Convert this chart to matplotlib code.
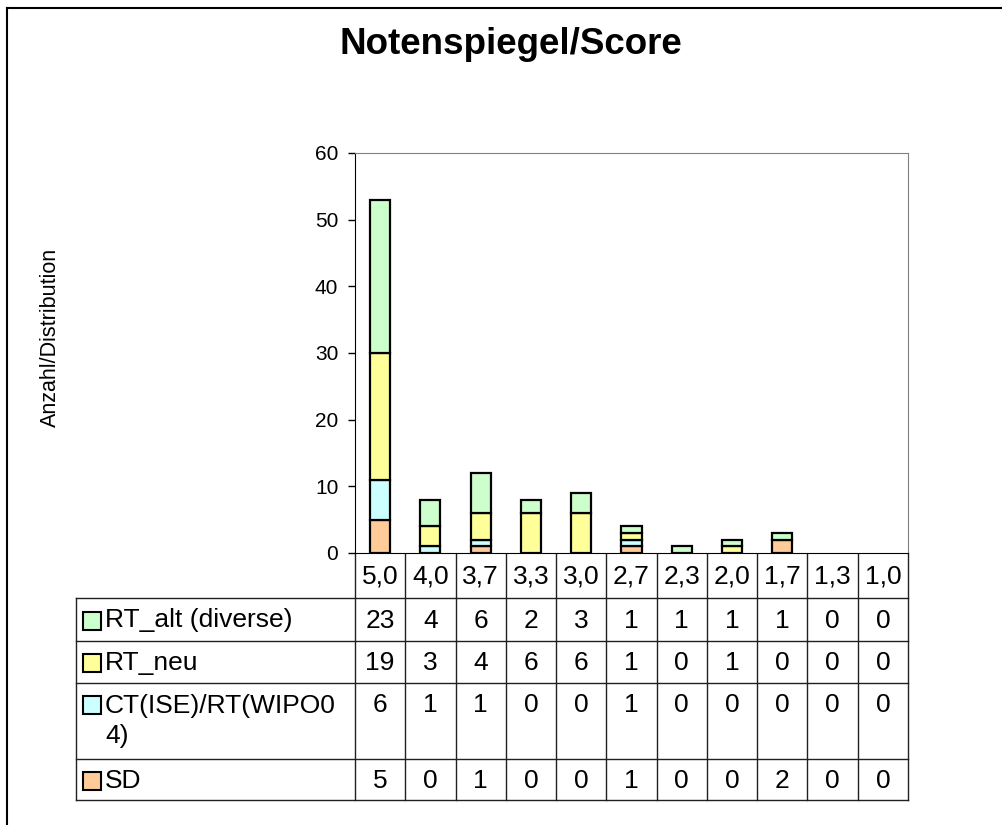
import matplotlib.pyplot as plt
import numpy as np

plt.rcParams['font.family'] = ['Liberation Sans', 'DejaVu Sans']

grades = ['5,0', '4,0', '3,7', '3,3', '3,0', '2,7', '2,3', '2,0', '1,7', '1,3', '1,0']
sd = [5, 0, 1, 0, 0, 1, 0, 0, 2, 0, 0]
ct_rt = [6, 1, 1, 0, 0, 1, 0, 0, 0, 0, 0]
rt_neu = [19, 3, 4, 6, 6, 1, 0, 1, 0, 0, 0]
rt_alt = [23, 4, 6, 2, 3, 1, 1, 1, 1, 0, 0]

series_names = ['SD', 'CT(ISE)/RT(WIPO0\n4)', 'RT_neu', 'RT_alt (diverse)']
series_vals = [sd, ct_rt, rt_neu, rt_alt]
colors = ['#FFCC99', '#CCFFFF', '#FFFF99', '#CCFFCC']

W, H = 1002, 825
fig = plt.figure(figsize=(W / 100, H / 100), dpi=100)

# plot area in pixels
px_l, px_r, px_t, px_b = 355, 908, 153, 553
ax = fig.add_axes([px_l / W, 1 - px_b / H, (px_r - px_l) / W, (px_b - px_t) / H])

x = np.arange(len(grades))
bottom = np.zeros(len(grades))
for vals, c in zip(series_vals, colors):
    vals = np.array(vals)
    keep = vals > 0  # empty segments are not drawn
    ax.bar(x[keep], vals[keep], 0.4, bottom=bottom[keep], color=c,
           edgecolor='black', linewidth=1.6, zorder=3)
    bottom += vals

ax.set_xlim(-0.5, len(grades) - 0.5)
ax.set_ylim(0, 60)
ax.set_yticks(range(0, 61, 10))
ax.tick_params(axis='y', direction='out', length=5, width=1, labelsize=15, pad=7)
ax.set_xticks([])
ax.spines['left'].set_color('black')
ax.spines['bottom'].set_color('black')
ax.spines['top'].set_color('#808080')
ax.spines['right'].set_color('#808080')

# overlay axes in pixel coordinates for table, title, frame
tax = fig.add_axes([0, 0, 1, 1], zorder=-1)
tax.set_xlim(0, W)
tax.set_ylim(H, 0)
tax.axis('off')

# outer frame
tax.plot([7, 7], [8, H], color='black', lw=1.5)
tax.plot([7, W], [8, 8], color='black', lw=1.5)

fig.text(511 / W, 1 - 44 / H, 'Notenspiegel/Score', ha='center', va='center',
         fontsize=26.5, fontweight='bold')
fig.text(50 / W, 1 - 337 / H, 'Anzahl/Distribution', ha='center', va='center',
         rotation=90, fontsize=15.5)

# data table
n = len(grades)
col_w = (px_r - px_l) / n
tbl_l = 76
row_edges = [553, 598, 641, 683, 759, 800]
lc = '#202020'
for i in range(n + 1):
    tax.plot([px_l + i * col_w] * 2, [row_edges[0], row_edges[-1]], color=lc, lw=1)
for y in row_edges[1:]:
    tax.plot([tbl_l, px_r], [y, y], color=lc, lw=1)
tax.plot([tbl_l, tbl_l], [row_edges[1], row_edges[-1]], color=lc, lw=1)

fs = 19
for i, g in enumerate(grades):
    tax.text(px_l + (i + 0.5) * col_w, (row_edges[0] + row_edges[1]) / 2 + 1, g,
             ha='center', va='center', fontsize=fs)

# table rows top to bottom: reversed stacking order
for r, k in enumerate(range(len(series_vals) - 1, -1, -1)):
    top, bot = row_edges[r + 1], row_edges[r + 2]
    name = series_names[k]
    first_line_y = top + 22 if '\n' in name else (top + bot) / 2 + 1
    tax.add_patch(plt.Rectangle((83, first_line_y - 9), 18, 18, facecolor=colors[k],
                                edgecolor='black', lw=1.5))
    tax.text(105, first_line_y - 11 if '\n' in name else first_line_y, name,
             ha='left', va='top' if '\n' in name else 'center', fontsize=fs,
             linespacing=1.3)
    for i, v in enumerate(series_vals[k]):
        tax.text(px_l + (i + 0.5) * col_w, first_line_y, str(v),
                 ha='center', va='center', fontsize=fs)

fig.savefig('out.png', dpi=100)
